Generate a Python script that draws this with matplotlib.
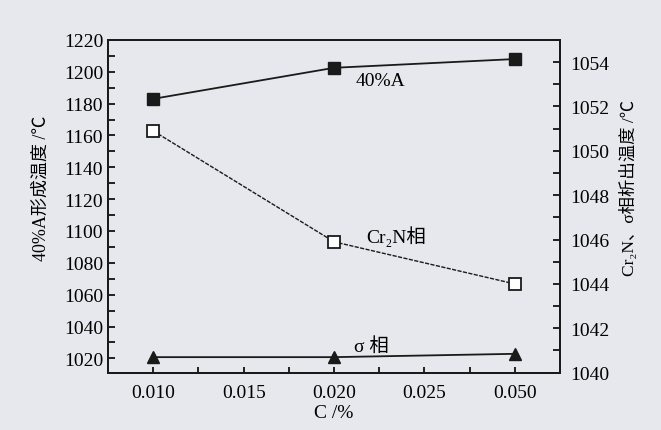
import matplotlib.pyplot as plt
from matplotlib.ticker import MultipleLocator

# x categories (evenly spaced on the axis)
tick_labels = ['0.010', '0.015', '0.020', '0.025', '0.050']
c_values = ['0.010', '0.020', '0.050']

# 40%A formation temperature (left axis)
a40 = [1183, 1202.5, 1208]
# Cr2N and sigma precipitation temperature (right axis)
cr2n = [1050.9, 1045.9, 1044.0]
sigma = [1040.7, 1040.7, 1040.85]

serif = ['Liberation Serif', 'Noto Sans CJK SC', 'DejaVu Serif']
bg = '#e7e8ed'

plt.rcParams['font.family'] = serif
plt.rcParams['font.size'] = 14

fig = plt.figure(figsize=(6.61, 4.31), dpi=100, facecolor=bg)
ax = fig.add_axes([0.1634, 0.133, 0.684, 0.772], facecolor=bg)
ax2 = ax.twinx()

x = [tick_labels.index(c) for c in c_values]

ax.plot(x, a40, color='#1a1a1a', lw=1.3, marker='s', ms=8, mfc='#1a1a1a')
ax2.plot(x, cr2n, color='#1a1a1a', lw=1.0, ls=(0, (3, 1)), marker='s', ms=8,
         mfc='white', mew=1.3)
ax2.plot(x, sigma, color='#1a1a1a', lw=1.3, marker='^', ms=9, mfc='#1a1a1a')

ax.set_xlim(-0.5, 4.5)
ax.set_ylim(1011, 1220)
ax2.set_ylim(1040, 1055)

ax.set_xticks(range(len(tick_labels)))
ax.set_xticklabels(tick_labels)
ax.xaxis.set_minor_locator(MultipleLocator(0.5))
ax.yaxis.set_major_locator(MultipleLocator(20))
ax.yaxis.set_minor_locator(MultipleLocator(10))
ax2.yaxis.set_major_locator(MultipleLocator(2))
ax2.yaxis.set_minor_locator(MultipleLocator(1))

ax.tick_params(axis='both', which='both', direction='in', length=5, width=1.2,
               labelsize=14, top=False, right=False)
ax.tick_params(axis='x', which='both', length=4, pad=8)
ax2.tick_params(axis='y', which='both', direction='in', length=5, width=1.2,
                labelsize=14, pad=7)

for a in (ax, ax2):
    for s in a.spines.values():
        s.set_linewidth(1.4)
        s.set_color('#1a1a1a')

ax.set_xlabel('C /%', fontsize=14, labelpad=2)
ax.set_ylabel('40%A形成温度 /℃', fontsize=13)
ax.yaxis.set_label_coords(-0.128, 0.557)
ax2.set_ylabel('Cr₂N、σ相析出温度 /℃', fontsize=12.5, rotation=90)
ax2.yaxis.set_label_coords(1.132, 0.557)

ax.text(2.24, 1194.3, '40%A', fontsize=14, ha='left', va='center')
ax2.text(2.36, 1046.2, 'Cr₂N相', fontsize=14, ha='left', va='center')
ax2.text(2.22, 1041.2, 'σ 相', fontsize=14, ha='left', va='center')

fig.savefig('out.png', dpi=100, facecolor=bg)
